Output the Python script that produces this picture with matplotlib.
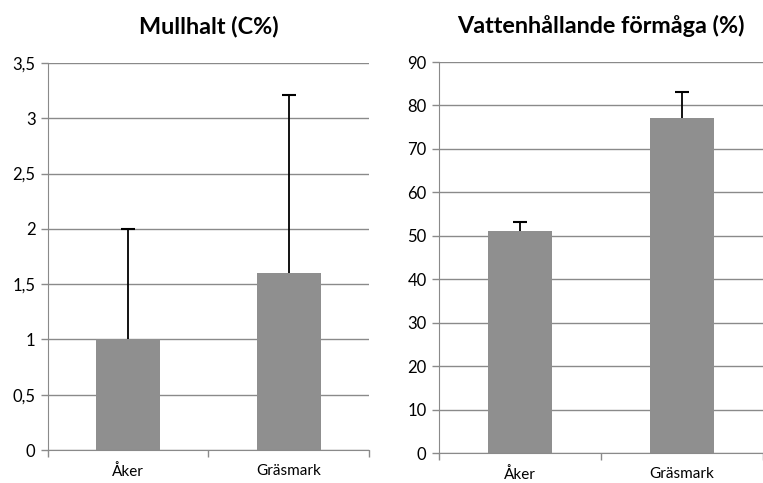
import matplotlib.pyplot as plt
from matplotlib.ticker import FuncFormatter, FixedLocator

plt.rcParams['font.family'] = ['Lato', 'DejaVu Sans']

categories = ['Åker', 'Gräsmark']

# Mullhalt (C%)
mull_values = [1.0, 1.6]
mull_err = [1.0, 1.61]
mull_ticks = [0, 0.5, 1, 1.5, 2, 2.5, 3, 3.5]

# Vattenhållande förmåga (%)
vatten_values = [51.0, 77.0]
vatten_err = [2.1, 6.0]
vatten_ticks = [0, 10, 20, 30, 40, 50, 60, 70, 80, 90]

barColor = '#8f8f8f'
gridColor = '#8a8a8a'

fig = plt.figure(figsize=(7.63, 4.83), dpi=100)
ax1 = fig.add_axes([0.0629, 0.0683, 0.4207, 0.8013])
ax2 = fig.add_axes([0.5754, 0.0621, 0.4246, 0.8095])

def draw(ax, values, err, ticks, title, fmt):
	x = list(range(len(categories)))
	tops = [v + e for v, e in zip(values, err)]
	ax.bar(x, values, width=0.4, color=barColor, zorder=2)
	# upper-only error bars, cap only at the top
	ax.vlines(x, values, tops, color='black', linewidth=1.3, zorder=3)
	ax.plot(x, tops, linestyle='none', marker='_', markersize=10,
		markeredgewidth=1.5, color='black', zorder=3)
	ax.set_xlim(-0.5, len(categories)-0.5)
	ax.set_ylim(ticks[0], ticks[-1])
	ax.set_yticks(ticks)
	ax.yaxis.set_major_formatter(FuncFormatter(fmt))
	ax.yaxis.grid(True, color=gridColor, linewidth=1, zorder=0)
	ax.xaxis.set_major_locator(FixedLocator([-0.5, 0.5, 1.5]))
	ax.set_xticklabels([])
	ax.set_xticks(x, categories, minor=True)
	ax.tick_params(axis='x', which='major', length=5, color=gridColor, width=1)
	ax.tick_params(axis='x', which='minor', length=0, labelsize=11, pad=10)
	ax.tick_params(axis='y', length=5, color=gridColor, width=1, labelsize=12, pad=4)
	for s in ['top', 'right']:
		ax.spines[s].set_visible(False)
	for s in ['left', 'bottom']:
		ax.spines[s].set_color(gridColor)
	ax.set_title(title, fontsize=16.8, fontweight='bold', pad=21)

draw(ax1, mull_values, mull_err, mull_ticks, 'Mullhalt (C%)',
	lambda v, p: ('%g' % v).replace('.', ','))
draw(ax2, vatten_values, vatten_err, vatten_ticks, 'Vattenhållande förmåga (%)',
	lambda v, p: '%d' % v)

plt.savefig('out.png', dpi=100)
